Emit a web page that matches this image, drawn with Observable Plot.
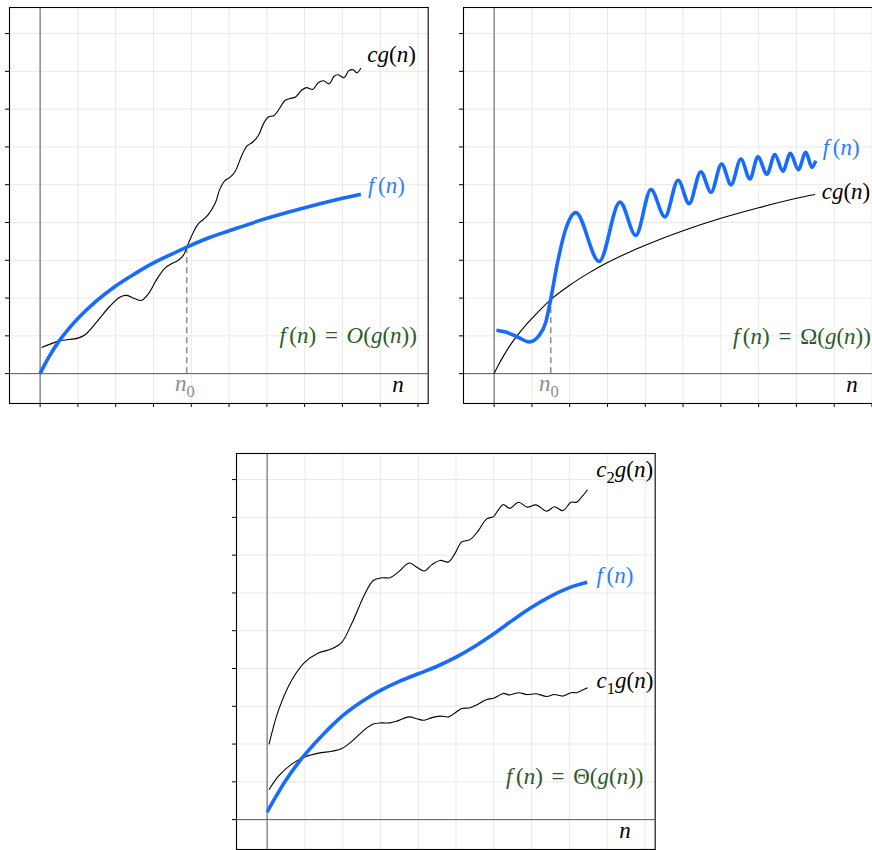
<!DOCTYPE html>
<html>
<head>
<meta charset="utf-8">
<script src="https://cdn.jsdelivr.net/npm/d3@7"></script>
<script src="https://cdn.jsdelivr.net/npm/@observablehq/plot@0.6"></script>
<style>
  body { margin: 0; background: #fff; }
  #wrap { position: relative; width: 872px; height: 850px; overflow: hidden; background: #fff; }
</style>
</head>
<body>
<div id="wrap"></div>
<script>
// ---------- ticks ----------
const nTicks = [0, 1, 2, 3, 4, 5, 6, 7, 8, 9, 10];
const valueTicks = [0, 1, 2, 3, 4, 5, 6, 7, 8, 9];

// ---------- panel 1: f(n) = O(g(n)) ----------
const oF_n = [0, 0.1, 0.25, 0.5, 0.75, 1, 1.5, 2, 2.5, 3, 3.5, 3.88, 4.5, 5, 6, 7, 8, 8.49];
const oF   = [0, 0.20, 0.47, 0.86, 1.18, 1.46, 1.93, 2.32, 2.64, 2.93, 3.17, 3.35, 3.61, 3.78, 4.11, 4.39, 4.64, 4.75];
const oCg_n = [0.04,0.49,1.0,1.19,1.5,1.85,2.12,2.29,2.51,2.69,2.87,3.09,3.31,3.48,3.66,3.79,3.92,4.06,4.19,4.32,4.45,4.63,4.76,4.89,5.03,5.16,5.34,5.47,5.63,5.78,5.91,6.04,6.19,6.33,6.48,6.61,6.76,6.92,7.05,7.21,7.36,7.50,7.65,7.78,7.89,8.04,8.17,8.29,8.38,8.49];
const oCg   = [0.69,0.86,0.94,1.03,1.37,1.79,2.03,2.07,1.98,1.94,2.12,2.50,2.80,2.91,3.00,3.13,3.44,3.75,3.97,4.08,4.21,4.50,4.89,5.11,5.20,5.35,5.78,6.02,6.13,6.31,6.61,6.79,6.83,7.01,7.23,7.28,7.32,7.50,7.57,7.52,7.70,7.75,7.67,7.87,7.91,7.83,8.02,8.04,7.96,8.09];
const oN0 = [3.88];
const oN0Value = [3.35];
const oTexts = ["cg(n)", "f(n)", "f(n) = O(g(n))"];

// ---------- panel 2: f(n) = Omega(g(n)) ----------
const wF_n = [0.06,0.31,0.62,0.93,1.19,1.37,1.50,1.68,1.90,2.16,2.78,3.33,3.75,4.15,4.52,4.87,5.16,5.47,5.74,6.02,6.27,6.53,6.77,6.98,7.22,7.43,7.64,7.84,8.05,8.25,8.41,8.51];
const wF   = [1.15,1.10,0.97,0.84,1.01,1.37,1.98,2.95,3.84,4.26,2.97,4.54,3.66,4.87,4.15,5.12,4.50,5.34,4.80,5.55,5.00,5.68,5.15,5.74,5.28,5.80,5.36,5.83,5.40,5.86,5.46,5.64];
const wCg_n = [0, 0.1, 0.25, 0.5, 0.75, 1, 1.5, 2, 2.5, 3, 3.5, 4, 5, 6, 7, 8, 8.49];
const wCg   = [0, 0.20, 0.47, 0.86, 1.18, 1.46, 1.96, 2.34, 2.66, 2.94, 3.18, 3.40, 3.78, 4.11, 4.39, 4.64, 4.74];
const wN0 = [1.5];
const wN0Value = [1.96];
const wTexts = ["f(n)", "cg(n)", "f(n) = Ω(g(n))"];

// ---------- panel 3: f(n) = Theta(g(n)) ----------
const tF_n = [0, 0.25, 0.5, 0.86, 1, 1.5, 2, 2.5, 3, 3.5, 4, 4.5, 5, 5.5, 6, 6.5, 7, 7.5, 8, 8.47];
const tF   = [0.2, 0.64, 1.05, 1.55, 1.72, 2.27, 2.75, 3.12, 3.42, 3.66, 3.86, 4.06, 4.30, 4.59, 4.92, 5.28, 5.62, 5.91, 6.14, 6.28];
const tC_n = [0.05,0.30,0.65,1.0,1.36,1.71,1.98,2.24,2.59,2.81,3.03,3.25,3.47,3.76,3.96,4.16,4.36,4.58,4.80,4.97,5.15,5.37,5.59,5.81,5.99,6.12,6.25,6.42,6.66,6.88,7.12,7.40,7.60,7.83,8.04,8.19,8.31,8.48];
const tC2  = [1.99,2.89,3.69,4.17,4.41,4.52,4.70,5.19,5.98,6.33,6.40,6.40,6.55,6.79,6.68,6.58,6.75,6.86,6.82,7.04,7.35,7.41,7.65,7.96,8.02,8.20,8.34,8.24,8.40,8.27,8.33,8.16,8.28,8.18,8.40,8.40,8.52,8.73];
const tC1  = [0.79,1.15,1.47,1.66,1.76,1.81,1.88,2.07,2.39,2.53,2.56,2.56,2.62,2.72,2.67,2.63,2.70,2.74,2.72,2.82,2.94,2.96,3.06,3.18,3.21,3.28,3.34,3.30,3.36,3.31,3.33,3.26,3.31,3.27,3.36,3.36,3.41,3.49];
const tTexts = ["c_2g(n)", "f(n)", "c_1g(n)", "f(n) = Θ(g(n))"];

const axisName = "n";
const thresholdName = "n_0";

// ---------- helpers ----------
const rows = (ns, vs) => ns.map((n, i) => ({n, v: vs[i]}));
const BLUE = "#176bff";
const LABEL_BLUE = "#2f7dff";
const GREEN = "#2c5a28";
const FONT = "'Liberation Serif', 'DejaVu Serif', serif";
const FS = 23;

function mathify(svg) {
  d3.select(svg).selectAll(".math text").each(function () {
    const s = this.textContent;
    const t = d3.select(this);
    t.text(null);
    let up = 0, extra = 0;
    for (let k = 0; k < s.length; k++) {
      const ch = s[k];
      if (ch === "_") {
        const c2 = s[++k];
        t.append("tspan").attr("dy", 6).attr("font-size", "72%").attr("font-style", "normal").text(c2);
        up = -6;
        continue;
      }
      const ts = t.append("tspan").text(ch === " " ? "\u00a0" : ch);
      if (up) { ts.attr("dy", up); up = 0; }
      if (extra) { ts.attr("dx", extra); extra = 0; }
      ts.attr("font-style", /[A-Za-z]/.test(ch) ? "italic" : "normal");
      if (ch === "f") extra = 3.5;
      if (ch === " ") extra = 3;
    }
  });
}

function makePanel({left, top, lines, n0, n0v, texts}) {
  const marks = [
    Plot.gridX(nTicks, {stroke: "#e9e9e9", strokeOpacity: 1, strokeWidth: 1}),
    Plot.gridY(valueTicks, {stroke: "#e9e9e9", strokeOpacity: 1, strokeWidth: 1}),
    Plot.ruleX([0], {stroke: "#5a5a5a", strokeWidth: 1}),
    Plot.ruleY([0], {stroke: "#5a5a5a", strokeWidth: 1})
  ];
  if (n0) {
    marks.push(Plot.ruleX(n0.map((x, i) => ({x, v: n0v[i]})),
      {x: "x", y1: 0, y2: "v", stroke: "#8c8c8c", strokeWidth: 1.5, strokeDasharray: "6,4"}));
    marks.push(Plot.text([thresholdName], {x: n0[0] - 0.05, y: -0.27, text: d => d,
      fill: "#8c8c8c", fontSize: FS, fontFamily: FONT, className: "math"}));
  }
  for (const l of lines) {
    marks.push(Plot.line(l.data, {x: "n", y: "v", curve: l.curve,
      stroke: l.stroke, strokeWidth: l.width, strokeLinecap: "butt", strokeLinejoin: "round"}));
  }
  for (const t of texts) {
    marks.push(Plot.text([t.text], {x: t.x, y: t.y, text: d => d, textAnchor: t.anchor || "start",
      fill: t.fill || "#000", fontSize: FS, fontFamily: FONT, className: "math"}));
  }
  marks.push(Plot.text([axisName], {x: 9.47, y: -0.3, text: d => d, fill: "#000",
    fontSize: FS, fontFamily: FONT, className: "math"}));
  marks.push(Plot.axisX(nTicks, {anchor: "bottom", tickSize: 4, tickFormat: () => "", label: null, stroke: "#000"}));
  marks.push(Plot.axisY(valueTicks, {anchor: "left", tickSize: 4, tickFormat: () => "", label: null, stroke: "#000"}));
  marks.push(Plot.frame({stroke: "#000", strokeWidth: 1.1}));

  const svg = Plot.plot({
    width: 6 + 418.7 + 1,
    height: 1 + 396 + 6,
    marginLeft: 6, marginRight: 1, marginTop: 1, marginBottom: 6,
    x: {domain: [-0.81, 10.27], axis: null},
    y: {domain: [-0.79, 9.69], axis: null},
    style: {position: "absolute", left: left + "px", top: top + "px", background: "transparent", overflow: "visible"},
    marks
  });
  mathify(svg);
  document.getElementById("wrap").appendChild(svg);
}

// Panel 1
makePanel({
  left: 3.3, top: 6,
  lines: [
    {data: rows(oCg_n, oCg), stroke: "#000", width: 1.1, curve: "catmull-rom"},
    {data: rows(oF_n, oF), stroke: BLUE, width: 3.6, curve: "catmull-rom"}
  ],
  n0: oN0, n0v: oN0Value,
  texts: [
    {text: oTexts[0], x: 8.66, y: 8.45},
    {text: oTexts[1], x: 8.68, y: 4.98, fill: LABEL_BLUE},
    {text: oTexts[2], x: 9.97, y: 1.0, anchor: "end", fill: GREEN}
  ]
});

// Panel 2
makePanel({
  left: 456.7, top: 6,
  lines: [
    {data: rows(wCg_n, wCg), stroke: "#000", width: 1.1, curve: "catmull-rom"},
    {data: rows(wF_n, wF), stroke: BLUE, width: 3.6, curve: "monotone-x"}
  ],
  n0: wN0, n0v: wN0Value,
  texts: [
    {text: wTexts[0], x: 8.70, y: 5.99, fill: LABEL_BLUE},
    {text: wTexts[1], x: 8.67, y: 4.82},
    {text: wTexts[2], x: 9.97, y: 0.98, anchor: "end", fill: GREEN}
  ]
});

// Panel 3
makePanel({
  left: 230, top: 452.3,
  lines: [
    {data: rows(tC_n, tC2), stroke: "#000", width: 1.1, curve: "catmull-rom"},
    {data: rows(tC_n, tC1), stroke: "#000", width: 1.1, curve: "catmull-rom"},
    {data: rows(tF_n, tF), stroke: BLUE, width: 3.6, curve: "catmull-rom"}
  ],
  texts: [
    {text: tTexts[0], x: 8.71, y: 9.27},
    {text: tTexts[1], x: 8.72, y: 6.46, fill: LABEL_BLUE},
    {text: tTexts[2], x: 8.72, y: 3.69},
    {text: tTexts[3], x: 9.96, y: 1.15, anchor: "end", fill: GREEN}
  ]
});
</script>
</body>
</html>
